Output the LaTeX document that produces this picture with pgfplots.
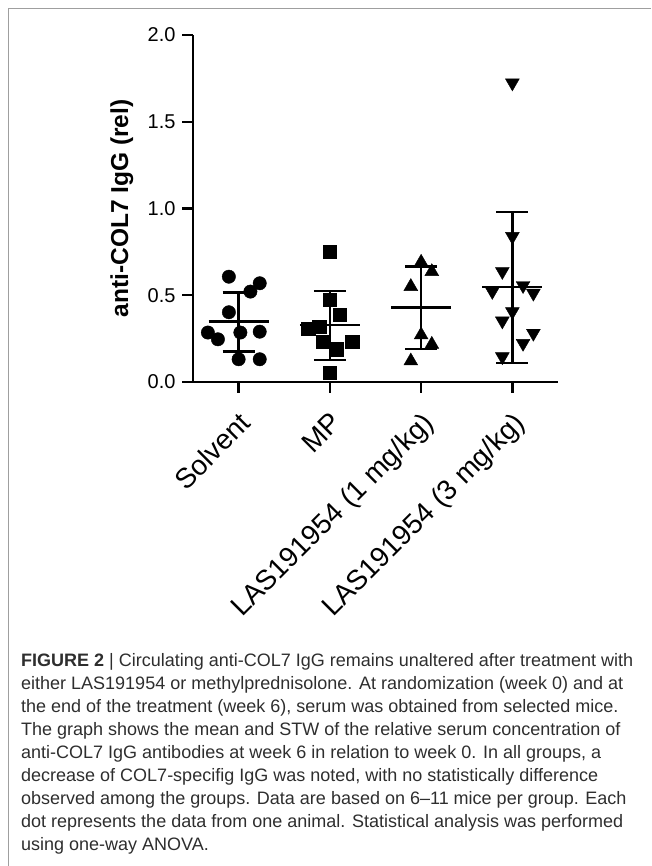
\documentclass[border=0pt]{standalone}
\usepackage{fontspec}
\setmainfont{Liberation Sans}
\usepackage{pgfplots}
\pgfplotsset{compat=1.18}
\begin{document}
\begin{tikzpicture}
\path[use as bounding box] (0pt,0pt) rectangle (651pt,866pt);
\draw[gray!75, line width=1.3pt] (8.3pt,0pt) -- (8.3pt,857.7pt) -- (651pt,857.7pt);
\begin{axis}[at={(193pt,484pt)}, anchor=south west, scale only axis,
  width=365pt, height=347pt,
  xmin=-0.5, xmax=3.5, ymin=0, ymax=2,
  axis x line=bottom, axis y line=left,
  axis line style={line width=2.4pt, -},
  xtick={0,1,2,3},
  xticklabels={Solvent, MP, LAS191954 (1 mg/kg), LAS191954 (3 mg/kg)},
  ytick={0,0.5,1,1.5,2},
  yticklabels={0.0,0.5,1.0,1.5,2.0},
  tick align=outside, major tick length=11pt,
  tick style={line width=2.4pt, black},
  /pgf/number format/assume math mode=true,
  yticklabel style={font=\fontsize{20}{24}\selectfont, xshift=-3pt},
  xticklabel style={font=\fontsize{28}{30}\selectfont, rotate=45, anchor=north east, inner sep=0pt, xshift=-13pt, yshift=-12pt},
  ylabel={anti-COL7 IgG (rel)},
  ylabel style={font=\bfseries\fontsize{24.5}{26}\selectfont, at={(axis description cs:-0.195,0.5)}, anchor=center},
  clip=false,
]
% Solvent
\addplot[only marks, mark=*, mark size=6.7pt, black] coordinates {
(-0.107,0.607) (0.231,0.569) (0.129,0.521) (-0.107,0.402) (-0.337,0.285)
(-0.227,0.246) (0.019,0.285) (0.231,0.290) (0,0.131) (0.231,0.131)};
% MP
\addplot[only marks, mark=square*, mark size=6.7pt, black] coordinates {
(1,0.752) (1,0.473) (1.11,0.387) (0.883,0.319) (0.762,0.306)
(0.926,0.233) (1.074,0.19) (1.245,0.233) (1,0.054)};
% LAS 1 mg/kg
\addplot[only marks, mark=triangle*, mark size=8pt, black] coordinates {
(2,0.69) (2.117,0.636) (1.887,0.55) (2,0.271) (2.117,0.217) (1.887,0.121)};
% LAS 3 mg/kg
\addplot[only marks, mark=triangle*, mark size=8pt, black, mark options={rotate=180}] coordinates {
(3,1.724) (3,0.839) (2.89,0.637) (2.78,0.522) (3.117,0.556) (3.23,0.512)
(3,0.406) (2.89,0.352) (3.23,0.281) (3.117,0.223) (2.89,0.146)};
% mean lines
\addplot[black, line width=2.4pt] coordinates {(-0.33,0.348) (0.33,0.348)};
\addplot[black, line width=2.4pt] coordinates {(0.67,0.329) (1.33,0.329)};
\addplot[black, line width=2.4pt] coordinates {(1.67,0.429) (2.33,0.429)};
\addplot[black, line width=2.4pt] coordinates {(2.67,0.546) (3.33,0.546)};
% SD bars
\addplot[black, line width=2.4pt] coordinates {(0,0.175) (0,0.515)};
\addplot[black, line width=2.4pt] coordinates {(-0.176,0.175) (0.176,0.175)};
\addplot[black, line width=2.4pt] coordinates {(-0.176,0.515) (0.176,0.515)};
\addplot[black, line width=2.4pt] coordinates {(1,0.127) (1,0.525)};
\addplot[black, line width=2.4pt] coordinates {(0.824,0.127) (1.176,0.127)};
\addplot[black, line width=2.4pt] coordinates {(0.824,0.525) (1.176,0.525)};
\addplot[black, line width=2.4pt] coordinates {(2,0.189) (2,0.665)};
\addplot[black, line width=2.4pt] coordinates {(1.824,0.189) (2.176,0.189)};
\addplot[black, line width=2.4pt] coordinates {(1.824,0.665) (2.176,0.665)};
\addplot[black, line width=2.4pt] coordinates {(3,0.111) (3,0.979)};
\addplot[black, line width=2.4pt] coordinates {(2.824,0.111) (3.176,0.111)};
\addplot[black, line width=2.4pt] coordinates {(2.824,0.979) (3.176,0.979)};
\end{axis}
\begin{scope}[every node/.style={anchor=base west, inner sep=0pt, text=black!82, font=\fontsize{18}{20}\selectfont}]
\node at (21pt,199pt) {\textbf{FIGURE 2} | Circulating anti-COL7 IgG remains unaltered after treatment with};
\node at (21pt,176pt) {either LAS191954 or methylprednisolone. At randomization (week 0) and at};
\node at (21pt,153pt) {the end of the treatment (week 6), serum was obtained from selected mice.};
\node at (21pt,130pt) {The graph shows the mean and STW of the relative serum concentration of};
\node at (21pt,107pt) {anti-COL7 IgG antibodies at week 6 in relation to week 0. In all groups, a};
\node at (21pt,84pt) {decrease of COL7-specifig IgG was noted, with no statistically difference};
\node at (21pt,61pt) {observed among the groups. Data are based on 6--11 mice per group. Each};
\node at (21pt,38pt) {dot represents the data from one animal. Statistical analysis was performed};
\node at (21pt,15pt) {using one-way ANOVA.};
\end{scope}
\end{tikzpicture}
\end{document}
